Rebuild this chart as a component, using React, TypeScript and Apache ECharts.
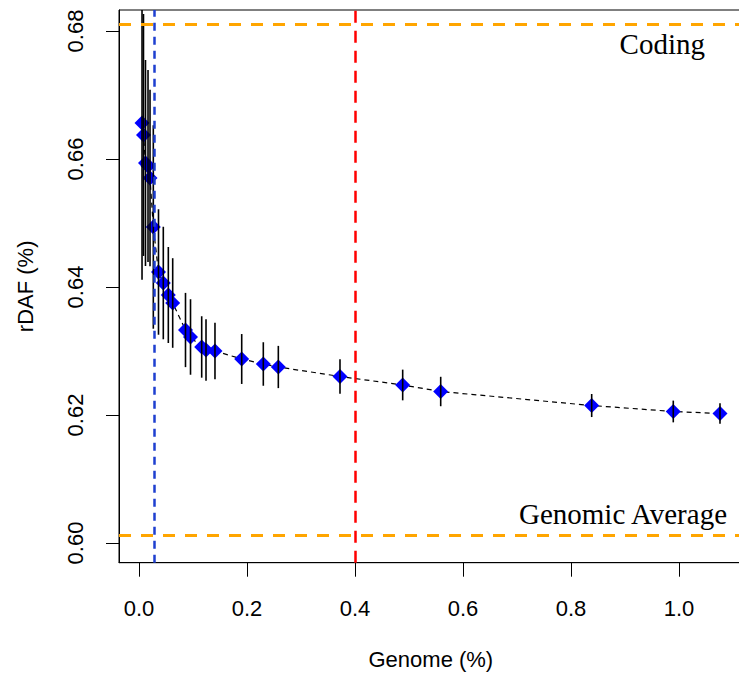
import React, { useEffect, useRef } from "react";
import * as echarts from "echarts";

// Genome fraction (%) of each threshold bin
const genomePct = [
  0.0056, 0.0083, 0.012, 0.0167, 0.0204, 0.0265, 0.0361, 0.045, 0.0543, 0.0624,
  0.0861, 0.0954, 0.1161, 0.1241, 0.1407, 0.1902, 0.2302, 0.258, 0.3722, 0.4883,
  0.5587, 0.8383, 0.9894, 1.0759,
];
// Mean rDAF (%)
const rdaf = [
  0.66563, 0.66375, 0.65938, 0.65891, 0.65703, 0.64938, 0.64234, 0.64063, 0.63875, 0.6375,
  0.63328, 0.63219, 0.63063, 0.63016, 0.63, 0.62875, 0.62797, 0.6275, 0.62602, 0.62469,
  0.62367, 0.62148, 0.62055, 0.62023,
];
// Half-width of the error bar
const errHalf = [
  0.0245, 0.0189, 0.0161, 0.015, 0.0138, 0.0159, 0.0098, 0.0088, 0.0075, 0.007,
  0.0058, 0.0059, 0.0048, 0.0048, 0.0044, 0.0039, 0.0034, 0.0033, 0.0027, 0.0024,
  0.0023, 0.0018, 0.0017, 0.0016,
];

const xTicks = [0, 0.2, 0.4, 0.6, 0.8, 1.0];
const yTicks = [0.6, 0.62, 0.64, 0.66, 0.68];

const codingLevel = 0.681;
const genomicAverage = 0.6012;
const blueCutoff = 0.0278;
const redCutoff = 0.4;

const SANS = '"Liberation Sans", Arial, Helvetica, sans-serif';
const SERIF = '"Liberation Serif", "Times New Roman", serif';

export default function App() {
  const ref = useRef<HTMLDivElement>(null);

  useEffect(() => {
    if (!ref.current) return;
    const chart = echarts.init(ref.current, null, { renderer: "svg" });

    const points = genomePct.map((x, i) => [x, rdaf[i]]);
    const bars = genomePct.map((x, i) => [x, rdaf[i] - errHalf[i], rdaf[i] + errHalf[i]]);

    const option: any = {
      animation: false,
      backgroundColor: "#ffffff",
      grid: {
        left: 119,
        top: 10,
        right: -3.7,
        bottom: 112.3,
        show: true,
        borderColor: "#000",
        borderWidth: 1,
        backgroundColor: "transparent",
        containLabel: false,
        outerBoundsMode: "none",
      },
      xAxis: {
        type: "value",
        min: -0.03704,
        max: 1.11796,
        name: "Genome (%)",
        nameLocation: "middle",
        nameGap: 86,
        nameTextStyle: { fontFamily: SANS, fontSize: 22, color: "#000" },
        axisLine: { show: true, onZero: false, lineStyle: { color: "#000", width: 1 } },
        axisTick: {
          show: true,
          length: 14,
          inside: false,
          customValues: xTicks,
          lineStyle: { color: "#000", width: 1 },
        },
        axisLabel: {
          customValues: xTicks,
          margin: 35,
          fontFamily: SANS,
          fontSize: 22,
          color: "#000",
          formatter: (v: number) => v.toFixed(1),
        },
        splitLine: { show: false },
      },
      yAxis: {
        type: "value",
        min: 0.596922,
        max: 0.683281,
        name: "rDAF (%)",
        nameLocation: "middle",
        nameGap: 83,
        nameRotate: 90,
        nameTextStyle: { fontFamily: SANS, fontSize: 22, color: "#000" },
        axisLine: { show: true, onZero: false, lineStyle: { color: "#000", width: 1 } },
        axisTick: {
          show: true,
          length: 13,
          inside: false,
          customValues: yTicks,
          lineStyle: { color: "#000", width: 1 },
        },
        axisLabel: {
          customValues: yTicks,
          rotate: 90,
          margin: 33,
          fontFamily: SANS,
          fontSize: 22,
          color: "#000",
          formatter: (v: number) => v.toFixed(2),
        },
        splitLine: { show: false },
      },
      series: [
        {
          type: "line",
          data: points,
          showSymbol: false,
          symbol: "none",
          z: 2,
          lineStyle: { color: "#000", width: 1.2, type: [5, 4] },
          silent: true,
        },
        {
          type: "scatter",
          data: points,
          symbol: "diamond",
          symbolSize: [15, 15],
          itemStyle: { color: "#0000FF", opacity: 1 },
          z: 3,
          silent: true,
        },
        {
          type: "custom",
          clip: true,
          z: 4,
          silent: true,
          data: bars,
          renderItem: (params: any, api: any) => {
            const x = api.value(0);
            const lo = api.coord([x, api.value(1)]);
            const hi = api.coord([x, api.value(2)]);
            return {
              type: "line",
              shape: { x1: lo[0], y1: lo[1], x2: hi[0], y2: hi[1] },
              style: { stroke: "#000", lineWidth: 1.6 },
            };
          },
        },
        {
          type: "line",
          data: [],
          z: 5,
          silent: true,
          markLine: {
            silent: true,
            symbol: "none",
            precision: 6,
            label: { show: false },
            animation: false,
            data: [
              { yAxis: codingLevel, lineStyle: { color: "#FFA500", width: 3, type: [12, 10] } },
              { yAxis: genomicAverage, lineStyle: { color: "#FFA500", width: 3, type: [12, 10] } },
              { xAxis: blueCutoff, lineStyle: { color: "#1E3FD0", width: 2.5, type: [8, 6] } },
              { xAxis: redCutoff, lineStyle: { color: "#FF0000", width: 2.5, type: [12, 8] } },
            ],
          },
        },
      ],
      graphic: [
        {
          type: "text",
          x: 705,
          y: 44,
          z: 10,
          style: {
            text: "Coding",
            font: `29px ${SERIF}`,
            fill: "#000",
            textAlign: "right",
            textVerticalAlign: "middle",
          },
        },
        {
          type: "text",
          x: 727,
          y: 514,
          z: 10,
          style: {
            text: "Genomic Average",
            font: `29px ${SERIF}`,
            fill: "#000",
            textAlign: "right",
            textVerticalAlign: "middle",
          },
        },
      ],
    };

    chart.setOption(option);
    return () => chart.dispose();
  }, []);

  return (
    <div
      ref={ref}
      style={{ position: "fixed", left: 0, top: 0, width: 739, height: 675 }}
    />
  );
}
